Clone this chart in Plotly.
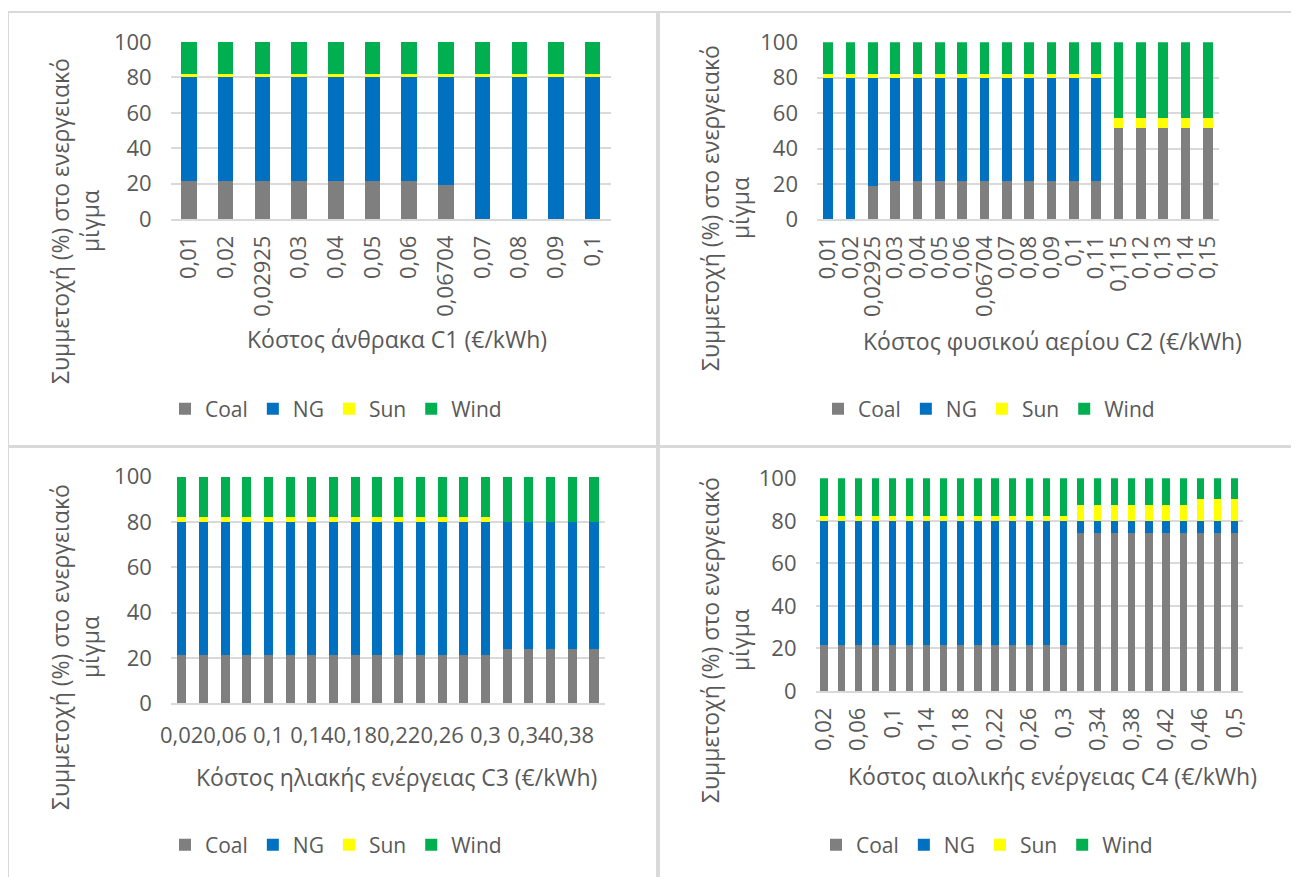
import plotly.graph_objects as go

W, H = 1299, 877

series_names = ["Coal", "NG", "Sun", "Wind"]
series_colors = ["#7F7F7F", "#0070C0", "#FFFF00", "#00B050"]

# Panel 1: coal cost C1
c1_cats = ["0,01", "0,02", "0,02925", "0,03", "0,04", "0,05", "0,06", "0,06704", "0,07", "0,08", "0,09", "0,1"]
c1_coal = [21.4, 21.4, 21.4, 21.4, 21.4, 21.4, 21.4, 19.2, 0, 0, 0, 0]
c1_ng = [58.6, 58.6, 58.6, 58.6, 58.6, 58.6, 58.6, 60.8, 80, 80, 80, 80]
c1_sun = [2.1, 2.1, 2.1, 2.1, 2.1, 2.1, 2.1, 2.1, 2.1, 2.1, 2.1, 2.1]
c1_wind = [17.9, 17.9, 17.9, 17.9, 17.9, 17.9, 17.9, 17.9, 17.9, 17.9, 17.9, 17.9]

# Panel 2: natural gas cost C2
c2_cats = ["0,01", "0,02", "0,02925", "0,03", "0,04", "0,05", "0,06", "0,06704", "0,07", "0,08", "0,09",
           "0,1", "0,11", "0,115", "0,12", "0,13", "0,14", "0,15"]
c2_coal = [0, 0, 19.0, 21.4, 21.4, 21.4, 21.4, 21.4, 21.4, 21.4, 21.4, 21.4, 21.4, 51.8, 51.8, 51.8, 51.8, 51.8]
c2_ng = [80, 80, 61.0, 58.6, 58.6, 58.6, 58.6, 58.6, 58.6, 58.6, 58.6, 58.6, 58.6, 0, 0, 0, 0, 0]
c2_sun = [2.1, 2.1, 2.1, 2.1, 2.1, 2.1, 2.1, 2.1, 2.1, 2.1, 2.1, 2.1, 2.1, 5.5, 5.5, 5.5, 5.5, 5.5]
c2_wind = [17.9, 17.9, 17.9, 17.9, 17.9, 17.9, 17.9, 17.9, 17.9, 17.9, 17.9, 17.9, 17.9, 42.7, 42.7, 42.7, 42.7, 42.7]

# Panel 3: solar cost C3
c3_cats = ["0,02", "0,04", "0,06", "0,08", "0,1", "0,12", "0,14", "0,16", "0,18", "0,2",
           "0,22", "0,24", "0,26", "0,28", "0,3", "0,32", "0,34", "0,36", "0,38", "0,4"]
c3_coal = [21.4, 21.4, 21.4, 21.4, 21.4, 21.4, 21.4, 21.4, 21.4, 21.4, 21.4, 21.4, 21.4, 21.4, 21.4, 24.1, 24.1, 24.1, 24.1, 24.1]
c3_ng = [58.6, 58.6, 58.6, 58.6, 58.6, 58.6, 58.6, 58.6, 58.6, 58.6, 58.6, 58.6, 58.6, 58.6, 58.6, 55.8, 55.8, 55.8, 55.8, 55.8]
c3_sun = [2.1, 2.1, 2.1, 2.1, 2.1, 2.1, 2.1, 2.1, 2.1, 2.1, 2.1, 2.1, 2.1, 2.1, 2.1, 0, 0, 0, 0, 0]
c3_wind = [17.9, 17.9, 17.9, 17.9, 17.9, 17.9, 17.9, 17.9, 17.9, 17.9, 17.9, 17.9, 17.9, 17.9, 17.9, 20.1, 20.1, 20.1, 20.1, 20.1]

# Panel 4: wind cost C4
c4_cats = ["0,02", "0,04", "0,06", "0,08", "0,1", "0,12", "0,14", "0,16", "0,18", "0,2",
           "0,22", "0,24", "0,26", "0,28", "0,3", "0,32", "0,34", "0,36", "0,38", "0,4",
           "0,42", "0,44", "0,46", "0,48", "0,5"]
c4_coal = [21.4, 21.4, 21.4, 21.4, 21.4, 21.4, 21.4, 21.4, 21.4, 21.4, 21.4, 21.4, 21.4, 21.4, 21.4,
           74.1, 74.1, 74.1, 74.1, 74.1, 74.1, 74.1, 74.1, 74.1, 74.1]
c4_ng = [58.6, 58.6, 58.6, 58.6, 58.6, 58.6, 58.6, 58.6, 58.6, 58.6, 58.6, 58.6, 58.6, 58.6, 58.6,
         5.8, 5.8, 5.8, 5.8, 5.8, 5.8, 5.8, 5.8, 5.8, 5.8]
c4_sun = [2.1, 2.1, 2.1, 2.1, 2.1, 2.1, 2.1, 2.1, 2.1, 2.1, 2.1, 2.1, 2.1, 2.1, 2.1,
          7.7, 7.7, 7.7, 7.7, 7.7, 7.7, 7.7, 10.4, 10.4, 10.4]
c4_wind = [17.9, 17.9, 17.9, 17.9, 17.9, 17.9, 17.9, 17.9, 17.9, 17.9, 17.9, 17.9, 17.9, 17.9, 17.9,
           12.4, 12.4, 12.4, 12.4, 12.4, 12.4, 12.4, 9.7, 9.7, 9.7]

x_titles = ["Κόστος άνθρακα C1 (€/kWh)", "Κόστος φυσικού αερίου C2 (€/kWh)",
            "Κόστος ηλιακής ενέργειας C3 (€/kWh)", "Κόστος αιολικής ενέργειας C4 (€/kWh)"]
y_title = "Συμμετοχή (%) στο ενεργειακό<br>μίγμα"

FONT = "Open Sans"
TXT = "#595959"
GRID = "#D9D9D9"
FS = 22     # tick labels
LFS = 21    # legend
TFS = 23    # axis titles
OFF = 8     # page body margin of the exported html


def px(x):
    return (x - OFF) / W


def py(y):
    return 1 - (y - OFF) / H


panels = [
    dict(cats=c1_cats, vals=[c1_coal, c1_ng, c1_sun, c1_wind], xd=(170.7, 611), yd=(219, 42),
         angle=-90, every=1, xso=6, ytc=(75, 221), xtc=(397, 339), leg=(336, 409)),
    dict(cats=c2_cats, vals=[c2_coal, c2_ng, c2_sun, c2_wind], xd=(817, 1219), yd=(219.3, 42.3),
         angle=-90, every=1, xso=6, ytc=(725, 208), xtc=(1052, 341), leg=(989, 409)),
    dict(cats=c3_cats, vals=[c3_coal, c3_ng, c3_sun, c3_wind], xd=(170.8, 604.9), yd=(703.3, 476.7),
         angle=0, every=2, xso=12, ytc=(75, 647), xtc=(397, 777), leg=(336, 845)),
    dict(cats=c4_cats, vals=[c4_coal, c4_ng, c4_sun, c4_wind], xd=(815.5, 1243), yd=(691, 478.3),
         angle=-90, every=2, xso=6, ytc=(725, 640), xtc=(1052, 776), leg=(987, 845)),
]

fig = go.Figure()
layout = dict(width=W, height=H, autosize=False, margin=dict(l=0, r=0, t=0, b=0, autoexpand=False),
              paper_bgcolor="white", plot_bgcolor="white", barmode="stack", bargap=0.58,
              font=dict(family=FONT, size=FS, color=TXT), annotations=[], shapes=[])

for i, p in enumerate(panels):
    n = i + 1
    xa = "x" if n == 1 else f"x{n}"
    ya = "y" if n == 1 else f"y{n}"
    lg = "legend" if n == 1 else f"legend{n}"
    for name, col, v in zip(series_names, series_colors, p["vals"]):
        fig.add_trace(go.Bar(x=p["cats"], y=v, name=name, marker=dict(color=col, line=dict(width=0)),
                             xaxis=xa, yaxis=ya, legend=lg, showlegend=True))
    xkey = "xaxis" if n == 1 else f"xaxis{n}"
    ykey = "yaxis" if n == 1 else f"yaxis{n}"
    layout[xkey] = dict(domain=[px(p["xd"][0]), px(p["xd"][1])], anchor=ya, type="category",
                        tickangle=p["angle"], tickvals=p["cats"][::p["every"]],
                        ticktext=p["cats"][::p["every"]], showline=True, linecolor=GRID, linewidth=1.5,
                        ticks="", showgrid=False, tickfont=dict(size=FS, color=TXT), fixedrange=True,
                        automargin=False, ticklabelstandoff=p["xso"])
    layout[ykey] = dict(domain=[py(p["yd"][0]), py(p["yd"][1])], anchor=xa, range=[0, 100], dtick=20,
                        showgrid=True, gridcolor=GRID, gridwidth=1.5, zeroline=False, showline=False,
                        ticks="", tickfont=dict(size=FS, color=TXT), ticklabelstandoff=18,
                        automargin=False)
    layout[lg] = dict(orientation="h", x=px(p["leg"][0]), y=py(p["leg"][1]), xanchor="center",
                      yanchor="middle", font=dict(size=LFS, color=TXT), itemwidth=30,
                      bgcolor="rgba(0,0,0,0)", traceorder="normal")
    layout["annotations"].append(dict(text=y_title, textangle=-90, x=px(p["ytc"][0]), y=py(p["ytc"][1]),
                                      xref="paper", yref="paper", showarrow=False, xanchor="center",
                                      yanchor="middle", align="center",
                                      font=dict(size=TFS, color=TXT)))
    layout["annotations"].append(dict(text=x_titles[i], x=px(p["xtc"][0]), y=py(p["xtc"][1]),
                                      xref="paper", yref="paper", showarrow=False, xanchor="center",
                                      yanchor="middle", font=dict(size=TFS, color=TXT)))

# panel borders
borders = [(8, 12, 657, 446), (659, 12, 1310, 446), (8, 447, 657, 890), (659, 447, 1310, 890)]
for x0, y0, x1, y1 in borders:
    layout["shapes"].append(dict(type="rect", xref="paper", yref="paper", x0=px(x0), x1=px(x1),
                                 y0=py(y1), y1=py(y0), line=dict(color=GRID, width=2),
                                 fillcolor="rgba(0,0,0,0)", layer="below"))

fig.update_layout(**layout)
fig.write_html("out.html")
